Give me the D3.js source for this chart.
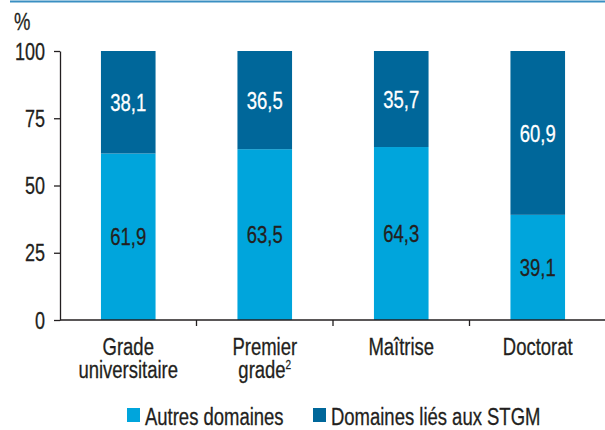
<!DOCTYPE html>
<html>
<head>
<meta charset="utf-8">
<script src="https://cdn.jsdelivr.net/npm/d3@7"></script>
<style>
  html, body { margin: 0; padding: 0; background: #fff; }
  svg { display: block; }
  text { font-family: "Liberation Sans", Arial, sans-serif; fill: #231f20; stroke: #231f20; stroke-width: 0.3px; }
  text.light { fill: #ffffff; stroke: #ffffff; }
</style>
</head>
<body>
<svg id="chart" width="605" height="430"></svg>
<script>
// Degree levels (x axis), split into display lines, with footnote markers
const categories = ["Grade universitaire", "Premier grade", "Maîtrise", "Doctorat"];
const labelLines = [["Grade", "universitaire"], ["Premier", "grade"], ["Maîtrise"], ["Doctorat"]];
const labelNotes = ["", "2", "", ""];
// Share of graduates by field (%)
const autresDomaines = [61.9, 63.5, 64.3, 39.1];
const domainesSTGM = [38.1, 36.5, 35.7, 60.9];
const seriesNames = ["Autres domaines", "Domaines liés aux STGM"];
const yTicks = [0, 25, 50, 75, 100];

const colors = ["#00a5dc", "#00679a"];
const fmt = v => v.toFixed(1).replace(".", ",");
const SIZE = 24;
const SQUEEZE = 0.77; // condensed look for the type

const svg = d3.select("#chart");
const W = 605;

// Condensed text: glyphs squeezed horizontally around the anchor point
function label(parent, x, y, str, opts = {}) {
  const t = parent.append("text")
    .attr("transform", `translate(${x},${y}) scale(${opts.sx || SQUEEZE},1)`)
    .attr("text-anchor", opts.anchor || "start")
    .attr("font-size", opts.size || SIZE);
  if (opts.dy) t.attr("dy", opts.dy);
  if (opts.cls) t.attr("class", opts.cls);
  if (str != null) t.text(str);
  return t;
}

// Top rule
svg.append("line")
  .attr("x1", 10).attr("x2", W).attr("y1", 1.5).attr("y2", 1.5)
  .attr("stroke", "#3a8fc2").attr("stroke-width", 2);

const x = d3.scaleBand().domain(categories).range([60, 606]);
const y = d3.scaleLinear().domain([0, 100]).range([320, 51]);

const rows = categories.map((c, i) => ({ cat: c, autres: autresDomaines[i], stgm: domainesSTGM[i] }));
const stack = d3.stack().keys(["autres", "stgm"])(rows);
const barW = x.bandwidth() * 0.4;

const g = svg.append("g");
stack.forEach((layer, li) => {
  g.selectAll(null).data(layer).enter().append("rect")
    .attr("x", d => x(d.data.cat) + (x.bandwidth() - barW) / 2)
    .attr("width", barW)
    .attr("y", d => y(d[1]))
    .attr("height", d => y(d[0]) - y(d[1]))
    .attr("fill", colors[li]);
  layer.forEach(d => {
    label(g, x(d.data.cat) + x.bandwidth() / 2, (y(d[0]) + y(d[1])) / 2, fmt(d[1] - d[0]),
      { anchor: "middle", dy: "0.36em", cls: li === 1 ? "light" : null });
  });
});

// Y axis
const yAxis = d3.axisLeft(y).tickValues(yTicks).tickSize(6).tickSizeOuter(0).tickFormat("");
const ya = svg.append("g").attr("transform", "translate(60,0)").call(yAxis);
ya.select(".domain").attr("stroke", "#231f20").attr("stroke-width", 1.3);
ya.selectAll(".tick line").attr("stroke", "#231f20").attr("stroke-width", 1.3);
yTicks.forEach(v => label(svg, 45, y(v), String(v), { anchor: "end", dy: "0.36em", sx: 0.75 }));

label(svg, 14, 30, "%");

// X axis with boundary ticks between categories
const xa = svg.append("g").attr("transform", "translate(0,320)");
xa.append("line").attr("x1", 60).attr("x2", 605).attr("y1", 0).attr("y2", 0)
  .attr("stroke", "#231f20").attr("stroke-width", 1.3);
categories.slice(1).forEach(c => {
  xa.append("line").attr("x1", x(c)).attr("x2", x(c)).attr("y1", 0).attr("y2", 6)
    .attr("stroke", "#231f20").attr("stroke-width", 1.3);
});
categories.forEach((c, i) => {
  labelLines[i].forEach((line, j) => {
    const t = label(xa, x(c) + x.bandwidth() / 2, 35 + j * 23, null, { anchor: "middle" });
    t.append("tspan").text(line);
    if (j === labelLines[i].length - 1 && labelNotes[i]) {
      t.append("tspan").attr("font-size", 13).attr("dy", -9).text(labelNotes[i]);
    }
  });
});

// Legend
const legend = svg.append("g").attr("transform", "translate(0,425)");
const legendX = [127, 313];
seriesNames.forEach((name, i) => {
  legend.append("rect").attr("x", legendX[i]).attr("y", -17).attr("width", 13).attr("height", 14).attr("fill", colors[i]);
  label(legend, legendX[i] + 18, 0, name);
});
</script>
</body>
</html>
